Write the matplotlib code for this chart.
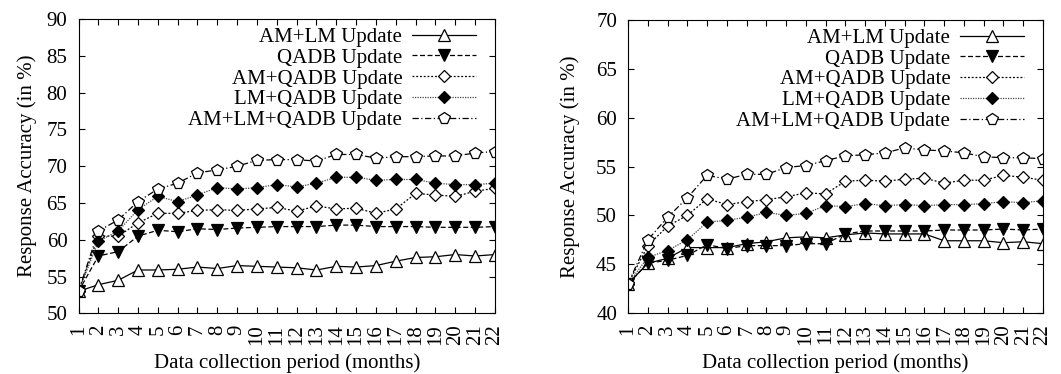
import matplotlib
matplotlib.use('Agg')
import matplotlib.pyplot as plt

plt.rcParams['font.family'] = ['Liberation Serif', 'DejaVu Serif']
plt.rcParams['font.size'] = 15

months = list(range(1, 23))
labels = ['AM+LM Update', 'QADB Update', 'AM+QADB Update',
          'LM+QADB Update', 'AM+LM+QADB Update']

# left panel
left_am_lm = [53, 53.9, 54.5, 55.9, 55.9, 56.0, 56.3, 56.1, 56.5, 56.4, 56.3,
              56.2, 55.9, 56.4, 56.3, 56.5, 57.1, 57.6, 57.7, 58.0, 57.8, 58.0]
left_qadb = [53, 57.8, 58.4, 60.5, 61.3, 61.1, 61.5, 61.4, 61.6, 61.7, 61.8,
             61.8, 61.8, 62.0, 62.0, 61.8, 61.8, 61.8, 61.7, 61.7, 61.7, 61.8]
left_am_qadb = [53, 60.5, 60.5, 62.3, 63.6, 63.6, 64.0, 64.1, 64.0, 64.2, 64.4,
                63.9, 64.6, 64.2, 64.3, 63.6, 64.2, 66.3, 66.1, 65.9, 66.6, 67.0]
left_lm_qadb = [53, 59.8, 61.2, 64.1, 65.9, 65.2, 66.1, 67.1, 66.9, 67.1, 67.5,
                67.2, 67.7, 68.5, 68.5, 68.1, 68.2, 68.2, 67.7, 67.5, 67.5, 67.7]
left_all = [53, 61.2, 62.7, 65.2, 66.9, 67.7, 69.1, 69.5, 70.0, 70.8, 70.9,
            70.9, 70.7, 71.6, 71.6, 71.1, 71.3, 71.3, 71.4, 71.4, 71.8, 72.0]

# right panel
right_am_lm = [43, 45.1, 45.6, 46.7, 46.7, 46.7, 47.1, 47.3, 47.7, 47.8, 47.7,
               48.0, 48.2, 48.1, 48.1, 48.1, 47.4, 47.4, 47.4, 47.2, 47.3, 47.1]
right_qadb = [43, 45.1, 45.4, 45.9, 47.0, 46.6, 46.9, 46.9, 46.9, 47.1, 47.1,
              48.1, 48.4, 48.4, 48.4, 48.4, 48.5, 48.5, 48.5, 48.6, 48.5, 48.6]
right_am_qadb = [43, 46.9, 48.9, 50.0, 51.7, 51.1, 51.4, 51.6, 51.9, 52.3, 52.2,
                 53.5, 53.6, 53.5, 53.7, 53.8, 53.3, 53.6, 53.6, 54.1, 53.9, 53.6]
right_lm_qadb = [43, 45.7, 46.4, 47.5, 49.3, 49.5, 49.8, 50.3, 50.0, 50.2, 51.0,
                 50.9, 51.2, 51.0, 51.1, 51.0, 51.1, 51.1, 51.2, 51.4, 51.3, 51.5]
right_all = [43, 47.5, 49.8, 51.8, 54.1, 53.7, 54.2, 54.2, 54.9, 55.1, 55.6,
             56.1, 56.2, 56.4, 56.9, 56.7, 56.6, 56.4, 56.0, 55.9, 55.9, 55.8]

styles = [
    dict(ls='-', marker='^', mfc='white', mec='black', color='black'),
    dict(ls=(0, (4, 2)), marker='v', mfc='black', mec='black', color='black'),
    dict(ls=(0, (1.5, 1.5)), marker='D', mfc='white', mec='black', color='black', ms=6.5),
    dict(ls=(0, (1, 1)), marker='D', mfc='black', mec='black', color='#444444', ms=6.5),
    dict(ls=(0, (5, 2, 1, 2)), marker='p', mfc='white', mec='black', color='black', ms=8.5),
]

fig = plt.figure(figsize=(10.61, 3.74), dpi=100)
ax1 = fig.add_axes([0.074, 0.162, 0.3925, 0.787])
ax2 = fig.add_axes([0.592, 0.163, 0.391, 0.7835])

panels = [
    (ax1, [left_am_lm, left_qadb, left_am_qadb, left_lm_qadb, left_all], 50, 90, -0.10),
    (ax2, [right_am_lm, right_qadb, right_am_qadb, right_lm_qadb, right_all], 40, 70, -0.115),
]

for ax, series, lo, hi, ylx in panels:
    for vals, lab, st in zip(series, labels, styles):
        st = dict(st)
        ms = st.pop('ms', 8)
        ax.plot(months, vals, label=lab, lw=0.9, ms=ms, mew=0.9, **st)
    ax.set_xlim(1, 22)
    ax.set_ylim(lo, hi)
    ax.set_xticks(months)
    ax.set_xticklabels([str(m) for m in months], rotation=90)
    ax.set_yticks(range(lo, hi + 1, 5))
    ax.tick_params(direction='in', length=4, top=True, right=True, labelsize=15)
    ax.tick_params(axis='x', pad=8)
    ax.tick_params(axis='y', pad=8)
    ax.set_xlabel('Data collection period (months)', labelpad=6)
    ax.set_ylabel('Response Accuracy (in %)')
    ax.yaxis.set_label_coords(ylx, 0.5)
    ax.legend(loc='upper right', bbox_to_anchor=(0.955, 0.972), frameon=False,
              markerfirst=False, handlelength=3.1, labelspacing=0.06,
              borderaxespad=0, borderpad=0, handletextpad=0.45, fontsize=15)

fig.savefig('out.png', dpi=100)
